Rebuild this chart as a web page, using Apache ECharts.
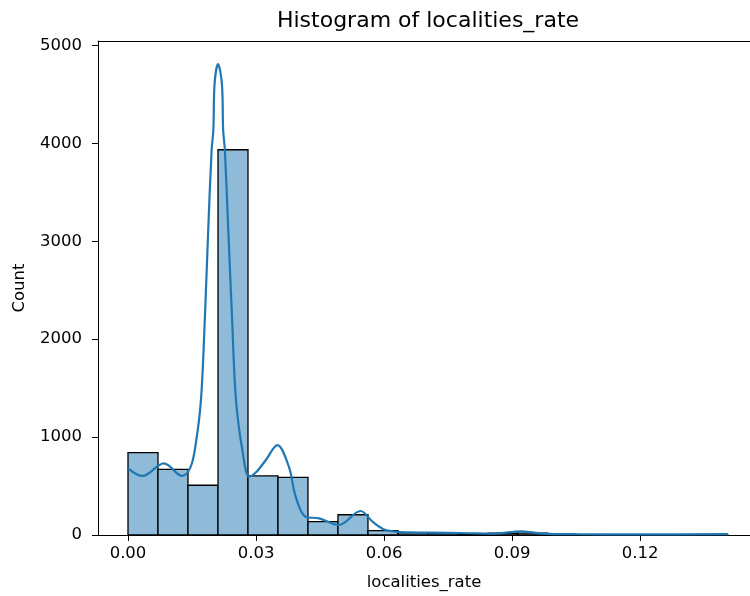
<!DOCTYPE html>
<html>
<head>
<meta charset="utf-8">
<script src="https://cdn.jsdelivr.net/npm/echarts@6/dist/echarts.min.js"></script>
<style>
  html, body { margin: 0; padding: 0; background: #fff; }
  #chart { width: 750px; height: 596px; }
</style>
</head>
<body>
<div id="chart"></div>
<script>
// Histogram of localities_rate: 20 equal-width bins starting at 0
const binWidth = 0.00703;
const binCounts = [841, 671, 508, 3935, 603, 589, 136, 207, 44, 23,
                   16, 12, 18, 20, 6, 4, 3, 2, 2, 2];

// Kernel density estimate, scaled to counts: [localities_rate, count]
const kdeX = [0, 0.0034, 0.0084, 0.0127, 0.0147, 0.0159, 0.0171, 0.0180, 0.0188, 0.0196,
              0.0200, 0.0203, 0.0211, 0.0220, 0.0223, 0.0227, 0.0235, 0.0244, 0.0253, 0.0268,
              0.0284, 0.0300, 0.0323, 0.0350, 0.0377, 0.0393, 0.0416, 0.0448, 0.0494, 0.0545,
              0.0573, 0.0604, 0.0659, 0.0700, 0.0800, 0.0860, 0.0920, 0.0970, 0.1050, 0.1200,
              0.1406];
const kdeY = [681, 603, 732, 603, 698, 937, 1380, 2200, 3116, 3933,
              4137, 4614, 4810, 4614, 4137, 3933, 3116, 2200, 1380, 868,
              596, 640, 766, 919, 698, 391, 187, 170, 102, 245,
              136, 51, 27, 25, 18, 15, 38, 15, 8, 6,
              8];

// Tick labels
const xTicks = [0, 0.03, 0.06, 0.09, 0.12];
const yTicks = [0, 1000, 2000, 3000, 4000, 5000];

const binData = binCounts.map((c, i) => [i * binWidth, (i + 1) * binWidth, c]);
const kdeData = kdeX.map((x, i) => [x, kdeY[i]]);

const chart = echarts.init(document.getElementById('chart'), null, { renderer: 'canvas' });
const font = 'DejaVu Sans';
const xMin = -0.00703, xMax = 0.14577;

chart.setOption({
  animation: false,
  backgroundColor: '#fff',
  title: {
    text: 'Histogram of localities_rate',
    left: 423,
    top: 5,
    textAlign: 'center',
    textStyle: { fontFamily: font, fontSize: 22, fontWeight: 'normal', color: '#000' }
  },
  grid: { left: 98, top: 41, bottom: 61, right: 0, show: false },
  xAxis: [
    {
      type: 'value',
      min: xMin,
      max: xMax,
      name: 'localities_rate',
      nameLocation: 'middle',
      nameGap: 39,
      nameTextStyle: { fontFamily: font, fontSize: 16.5, color: '#000' },
      splitLine: { show: false },
      axisLine: { show: true, onZero: false, lineStyle: { color: '#000', width: 1 } },
      axisTick: { show: true, length: 6, customValues: xTicks, lineStyle: { color: '#000' } },
      axisLabel: {
        customValues: xTicks, margin: 10,
        fontFamily: font, fontSize: 16.5, color: '#000',
        formatter: v => v.toFixed(2)
      }
    },
    {
      // top frame line
      type: 'value',
      position: 'top',
      min: xMin,
      max: xMax,
      splitLine: { show: false },
      axisLine: { show: true, onZero: false, lineStyle: { color: '#000', width: 1 } },
      axisTick: { show: false },
      axisLabel: { show: false }
    }
  ],
  yAxis: {
    type: 'value',
    min: 0,
    max: 5046,
    name: 'Count',
    nameLocation: 'middle',
    nameGap: 70,
    nameRotate: 90,
    nameTextStyle: { fontFamily: font, fontSize: 16.5, color: '#000' },
    splitLine: { show: false },
    axisLine: { show: true, onZero: false, lineStyle: { color: '#000', width: 1 } },
    axisTick: { show: true, length: 6, customValues: yTicks, lineStyle: { color: '#000' } },
    axisLabel: {
      customValues: yTicks, margin: 16,
      fontFamily: font, fontSize: 16.5, color: '#000',
      formatter: v => String(v)
    }
  },
  series: [
    {
      type: 'custom',
      data: binData,
      encode: { x: [0, 1], y: 2 },
      renderItem: function (params, api) {
        const top = api.coord([api.value(0), api.value(2)]);
        const base = api.coord([api.value(1), 0]);
        return {
          type: 'rect',
          shape: { x: top[0], y: top[1], width: base[0] - top[0], height: base[1] - top[1] },
          style: { fill: '#8fbbd9', stroke: '#000', lineWidth: 1.3 }
        };
      },
      z: 2
    },
    {
      type: 'line',
      data: kdeData,
      smooth: 0.35,
      showSymbol: false,
      lineStyle: { color: '#1f77b4', width: 2.2 },
      z: 3
    }
  ]
});
</script>
</body>
</html>
